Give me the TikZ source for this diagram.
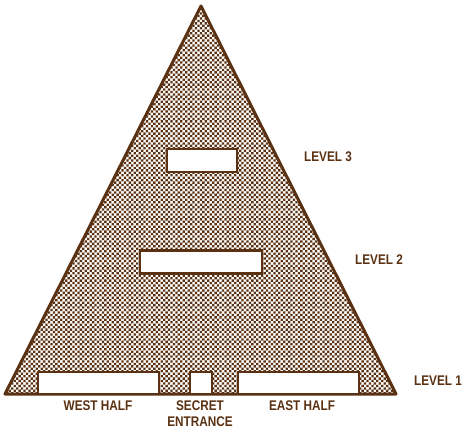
\documentclass[tikz,border=0pt]{standalone}
\usepackage{fontspec}
\setmainfont[FakeStretch=0.84]{Liberation Sans}
\usepackage{xcolor}
\definecolor{pybrown}{HTML}{5A3112}
\usetikzlibrary{patterns, positioning}
\pgfdeclarepatternformonly{pydots}{\pgfqpoint{-1.5pt}{-1.5pt}}{\pgfqpoint{4pt}{4pt}}{\pgfqpoint{4.9pt}{4.9pt}}{
  \pgfpathrectangle{\pgfqpoint{-1.15pt}{-1.15pt}}{\pgfqpoint{2.3pt}{2.3pt}}
  \pgfpathrectangle{\pgfqpoint{1.3pt}{1.3pt}}{\pgfqpoint{2.3pt}{2.3pt}}
  \pgfusepath{fill}
}
\begin{document}
\begin{tikzpicture}[
  x=1pt, y=-1pt,
  pyramid/.style={draw=pybrown, line width=3pt, line join=round,
    pattern=pydots, pattern color=pybrown},
  room/.style={rectangle, draw=pybrown, fill=white, line width=2.6pt,
    inner sep=0pt},
  lbl/.style={font=\bfseries\fontsize{14}{16}\selectfont, text=pybrown,
    align=center, inner sep=0pt}
]
  \useasboundingbox (0,0) rectangle (462,435);
  \coordinate (top) at (201,6);
  \coordinate (left) at (5,394);
  \coordinate (right) at (396,394);
  \draw[pyramid] (top) -- (right) -- (left) -- cycle;

  \node[room, minimum width=70pt, minimum height=23pt] (room3) at (202,160.5) {};
  \node[room, minimum width=122pt, minimum height=23pt] (room2) at (201,262) {};
  \node[room, minimum width=121pt, minimum height=22pt] (west) at (98.5,383) {};
  \node[room, minimum width=22pt, minimum height=22pt] (secret) at (201,383) {};
  \node[room, minimum width=121pt, minimum height=22pt] (east) at (298.5,383) {};

  \node[lbl] (level3) at (328,157) {LEVEL 3};
  \node[lbl] (level2) at (379,260) {LEVEL 2};
  \node[lbl] (level1) at (438,381) {LEVEL 1};
  \node[lbl] (westlbl) at (98,406) {WEST HALF};
  \node[lbl] (secretlbl) at (200,414) {SECRET\\ENTRANCE};
  \node[lbl] (eastlbl) at (302,406) {EAST HALF};
\end{tikzpicture}
\end{document}
